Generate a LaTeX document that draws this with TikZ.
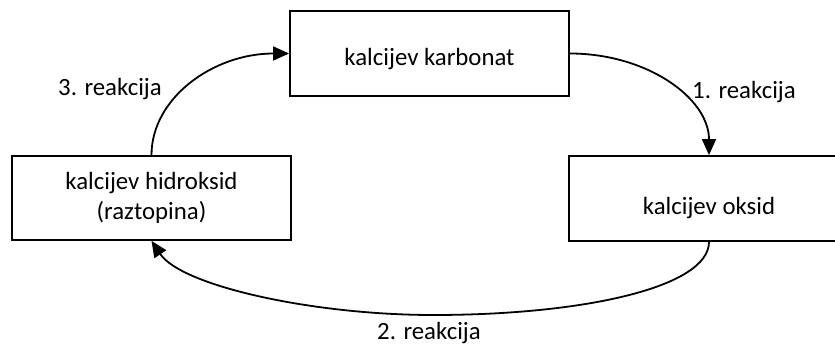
\documentclass[tikz,border=0pt]{standalone}
\usepackage{fontspec}
\setmainfont{Carlito}
\usetikzlibrary{arrows.meta}
\begin{document}
\begin{tikzpicture}[x=1pt,y=1pt,
  box/.style={draw=black, line width=1.8pt, minimum width=279pt, minimum height=85pt,
    inner sep=0pt, font=\fontsize{24.8}{30.5}\selectfont},
  lbl/.style={font=\fontsize{24.8}{30.5}\selectfont, anchor=base, inner sep=0pt},
  flow/.style={line width=1.8pt, -{Triangle[length=16pt,width=14pt]}}]
\clip (0,0) rectangle (835,346);

% the three compounds of the cycle
\node[box, text height=25pt, text depth=0pt] (carbonate) at (429.5,292.5) {kalcijev karbonat};
\node[box, align=center, minimum height=84pt] (hydroxide) at (151.5,148) {kalcijev hidroksid\\(raztopina)};
\node[box, text height=31pt, text depth=0pt, minimum width=280pt] (oxide) at (709,147.5) {kalcijev oksid};

% reactions
\draw[flow] (carbonate.east) .. controls +(77,0) and +(0,57) .. (oxide.north);
\draw[flow] (hydroxide.north) .. controls +(0,57) and +(-76,0) .. (carbonate.west);
\coordinate (low) at (433,31);
\draw[flow] (oxide.south) .. controls +(0,-45) and +(152,0) .. (low)
  .. controls +(-120,0) and +(30,-45) .. (hydroxide.south);

% reaction labels
\node[lbl] (r1) at (744,247) {1. reakcija};
\node[lbl] (r3) at (110,250) {3. reakcija};
\node[lbl] (r2) at (429,7) {2. reakcija};
\end{tikzpicture}
\end{document}
